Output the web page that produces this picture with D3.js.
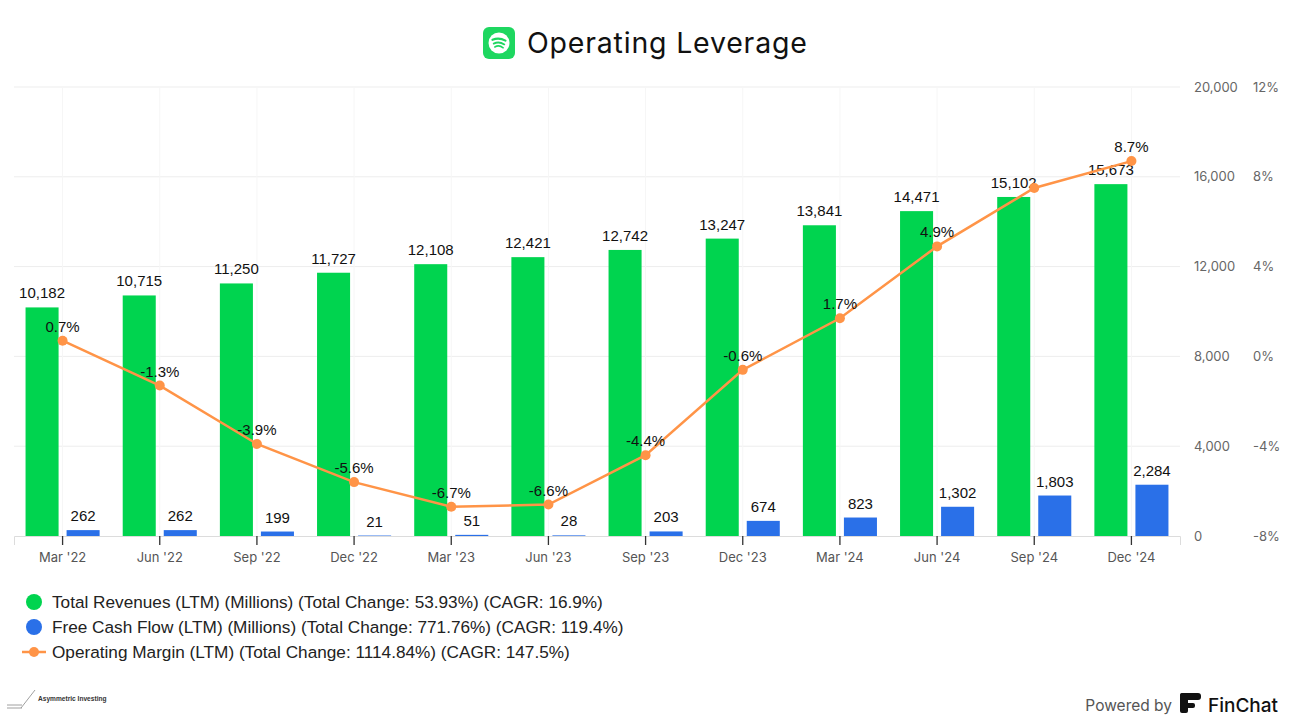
<!DOCTYPE html>
<html>
<head>
<meta charset="utf-8">
<script src="https://cdn.jsdelivr.net/npm/d3@7"></script>
<style>
  body { margin: 0; background: #fff; }
  svg { display: block; }
</style>
</head>
<body>
<svg id="chart"></svg>
<script>
// Data
const quarters = ["Mar '22", "Jun '22", "Sep '22", "Dec '22", "Mar '23", "Jun '23",
                  "Sep '23", "Dec '23", "Mar '24", "Jun '24", "Sep '24", "Dec '24"];
const revenues = [10182, 10715, 11250, 11727, 12108, 12421, 12742, 13247, 13841, 14471, 15102, 15673];
const freeCashFlow = [262, 262, 199, 21, 51, 28, 203, 674, 823, 1302, 1803, 2284];
const operatingMargin = [0.7, -1.3, -3.9, -5.6, -6.7, -6.6, -4.4, -0.6, 1.7, 4.9, 7.5, 8.7];
const leftTicks = [0, 4000, 8000, 12000, 16000, 20000];
const rightTicks = [-8, -4, 0, 4, 8, 12];
const legendItems = [
  {name: 'Total Revenues (LTM) (Millions) (Total Change: 53.93%) (CAGR: 16.9%)', type: 'bar', color: '#00d44f'},
  {name: 'Free Cash Flow (LTM) (Millions) (Total Change: 771.76%) (CAGR: 119.4%)', type: 'bar', color: '#2a70e8'},
  {name: 'Operating Margin (LTM) (Total Change: 1114.84%) (CAGR: 147.5%)', type: 'line', color: '#ff9447'}
];

const width = 1292, height = 727;
const plot = {left: 14, right: 1180, top: 87, bottom: 536};
const green = '#00d44f', blue = '#2a70e8', orange = '#ff9447';
const labelFont = '"Liberation Sans", Arial, sans-serif';
const axisFont = 'Inter, "Noto Sans", sans-serif';

const svg = d3.select('#chart').attr('width', width).attr('height', height);

// Scales
const xScale = d3.scaleBand().domain(quarters).range([plot.left, plot.right]).padding(0);
const yLeft = d3.scaleLinear().domain([0, 20000]).range([plot.bottom, plot.top]);
const yRight = d3.scaleLinear().domain([-8, 12]).range([plot.bottom, plot.top]);
const cx = q => xScale(q) + xScale.bandwidth() / 2;
const barW = xScale.bandwidth() * 0.34;
const gap = 4;

// Gridlines
svg.append('g')
  .selectAll('line')
  .data(leftTicks.slice(1))
  .enter()
  .append('line')
  .attr('x1', plot.left).attr('x2', plot.right)
  .attr('y1', d => yLeft(d)).attr('y2', d => yLeft(d))
  .attr('stroke', '#ededed').attr('stroke-width', 1);

svg.append('g')
  .selectAll('line')
  .data(quarters)
  .enter()
  .append('line')
  .attr('x1', d => cx(d)).attr('x2', d => cx(d))
  .attr('y1', plot.top).attr('y2', plot.bottom)
  .attr('stroke', '#f6f6f6').attr('stroke-width', 1);

// Bars
svg.append('g')
  .selectAll('rect')
  .data(revenues)
  .enter()
  .append('rect')
  .attr('x', (d, i) => cx(quarters[i]) - gap - barW)
  .attr('y', d => yLeft(d))
  .attr('width', barW)
  .attr('height', d => plot.bottom - yLeft(d))
  .attr('fill', green);

svg.append('g')
  .selectAll('rect')
  .data(freeCashFlow)
  .enter()
  .append('rect')
  .attr('x', (d, i) => cx(quarters[i]) + gap)
  .attr('y', d => yLeft(d))
  .attr('width', barW)
  .attr('height', d => Math.max(1, plot.bottom - yLeft(d)))
  .attr('fill', blue);

// X axis
const xAxis = d3.axisBottom(xScale).tickSize(9).tickPadding(8);
const gx = svg.append('g')
  .attr('transform', 'translate(0,' + plot.bottom + ')')
  .call(xAxis);
gx.select('.domain').attr('stroke', '#dcdcdc');
gx.selectAll('.tick line').attr('stroke', '#333').attr('stroke-width', 1.3);
gx.selectAll('.tick text')
  .attr('fill', '#555').style('font-family', axisFont).style('font-size', '13px');

// Right axes
const yAxisA = d3.axisRight(yLeft).tickValues(leftTicks).tickSize(0).tickPadding(0)
  .tickFormat(d3.format(','));
const ga = svg.append('g').attr('transform', 'translate(1194,0)').call(yAxisA);
ga.select('.domain').remove();
ga.selectAll('text').attr('fill', '#666').style('font-family', axisFont).style('font-size', '13px');

const yAxisB = d3.axisRight(yRight).tickValues(rightTicks).tickSize(0).tickPadding(0)
  .tickFormat(d => d + '%');
const gb = svg.append('g').attr('transform', 'translate(1253,0)').call(yAxisB);
gb.select('.domain').remove();
gb.selectAll('text').attr('fill', '#666').style('font-family', axisFont).style('font-size', '13px');

// Bar value labels
const barLabels = svg.append('g')
  .style('font-family', labelFont).style('font-size', '15px').attr('fill', '#111')
  .attr('text-anchor', 'middle');

barLabels.selectAll('text.rev')
  .data(revenues)
  .enter()
  .append('text')
  .attr('class', 'rev')
  .attr('x', (d, i) => cx(quarters[i]) - gap - barW / 2)
  .attr('y', d => yLeft(d) - 9)
  .text(d3.format(','));

barLabels.selectAll('text.fcf')
  .data(freeCashFlow)
  .enter()
  .append('text')
  .attr('class', 'fcf')
  .attr('x', (d, i) => cx(quarters[i]) + gap + barW / 2)
  .attr('y', d => yLeft(d) - 9)
  .text(d3.format(','));

// Operating margin line
const line = d3.line()
  .x((d, i) => cx(quarters[i]))
  .y(d => yRight(d));

svg.append('path')
  .datum(operatingMargin)
  .attr('d', line)
  .attr('fill', 'none')
  .attr('stroke', orange)
  .attr('stroke-width', 2.5);

svg.append('g')
  .selectAll('circle')
  .data(operatingMargin)
  .enter()
  .append('circle')
  .attr('cx', (d, i) => cx(quarters[i]))
  .attr('cy', d => yRight(d))
  .attr('r', 5)
  .attr('fill', orange);

const marginLabels = svg.append('g')
  .style('font-family', labelFont).style('font-size', '15px').attr('fill', '#111')
  .attr('text-anchor', 'middle')
  .selectAll('text')
  .data(operatingMargin)
  .enter()
  .append('text')
  .attr('x', (d, i) => cx(quarters[i]))
  .attr('y', d => yRight(d) - 9)
  .text(d => d.toFixed(1) + '%');

// hide margin labels that collide with bar labels
const barBoxes = barLabels.selectAll('text').nodes().map(n => n.getBBox());
marginLabels.each(function() {
  const b = this.getBBox();
  const hit = barBoxes.some(o =>
    b.x < o.x + o.width && b.x + b.width > o.x &&
    b.y < o.y + o.height - 2 && b.y + b.height - 2 > o.y);
  if (hit) d3.select(this).remove();
});

// Title
const title = svg.append('g');
title.append('rect')
  .attr('x', 483).attr('y', 27).attr('width', 32).attr('height', 32)
  .attr('rx', 6).attr('fill', '#1ed760');
title.append('circle').attr('cx', 499).attr('cy', 43).attr('r', 10.5).attr('fill', '#fff');
[[-3.2, 6.5, 2.2], [0.6, 5.3, 1.8], [4, 4.2, 1.5]].forEach(a => {
  title.append('path')
    .attr('d', `M${499 - a[1]},${43 + a[0]} Q499,${43 + a[0] - 2.6} ${499 + a[1]},${43 + a[0] + 0.8}`)
    .attr('fill', 'none').attr('stroke', '#1ed760')
    .attr('stroke-width', a[2]).attr('stroke-linecap', 'round');
});
title.append('text')
  .attr('x', 527).attr('y', 53)
  .style('font-family', axisFont).style('font-size', '28.5px').style('font-weight', 400)
  .style('letter-spacing', '0.8px')
  .attr('fill', '#111')
  .text('Operating Leverage');

// Legend
const legend = svg.append('g')
  .selectAll('g')
  .data(legendItems)
  .enter()
  .append('g')
  .attr('transform', (d, i) => 'translate(34,' + (602 + i * 25) + ')');

legend.filter(d => d.type === 'line')
  .append('line')
  .attr('x1', -12).attr('x2', 12)
  .attr('stroke', d => d.color).attr('stroke-width', 2.5);

legend.append('circle')
  .attr('r', d => d.type === 'bar' ? 8 : 5)
  .attr('fill', d => d.color);

legend.append('text')
  .attr('x', 18).attr('y', 6)
  .style('font-family', labelFont).style('font-size', '17.2px').attr('fill', '#222')
  .text(d => d.name);

// Footer: Asymmetric Investing
const ai = svg.append('g');
ai.append('path').attr('d', 'M7,705 L22,705 M7,708 L22,708 M21,708 L35,690')
  .attr('stroke', '#888').attr('stroke-width', 0.8).attr('fill', 'none');
ai.append('text')
  .attr('x', 38).attr('y', 701)
  .style('font-family', labelFont).style('font-size', '6.6px').style('font-weight', 700)
  .attr('fill', '#333')
  .text('Asymmetric Investing');

// Footer: Powered by FinChat
const fc = svg.append('g');
fc.append('text')
  .attr('x', 1172).attr('y', 711).attr('text-anchor', 'end')
  .style('font-family', axisFont).style('font-size', '15.5px').attr('fill', '#555')
  .text('Powered by');
fc.append('rect').attr('x', 1180).attr('y', 693).attr('width', 21).attr('height', 7).attr('rx', 3).attr('fill', '#111');
fc.append('rect').attr('x', 1180).attr('y', 693).attr('width', 8).attr('height', 20).attr('rx', 2).attr('fill', '#111');
fc.append('rect').attr('x', 1186).attr('y', 703).attr('width', 9).attr('height', 5).attr('rx', 2).attr('fill', '#111');
fc.append('text')
  .attr('x', 1208).attr('y', 712)
  .style('font-family', axisFont).style('font-size', '19px').style('font-weight', 500)
  .attr('fill', '#111')
  .text('FinChat');
</script>
</body>
</html>
